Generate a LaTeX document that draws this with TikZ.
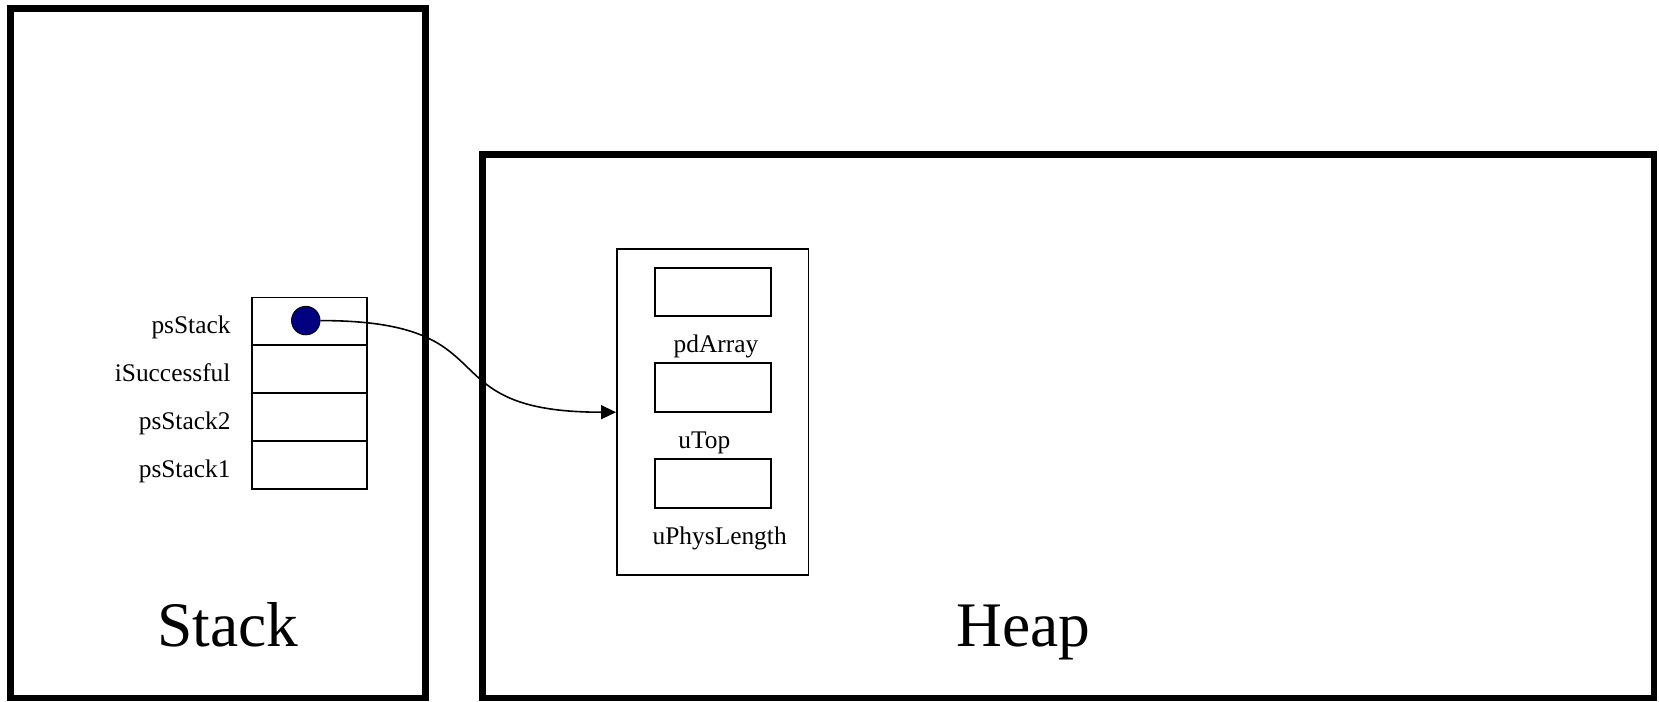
\documentclass[tikz,border=0pt]{standalone}
\usepackage{fontspec}
\setmainfont{Liberation Serif}
\usetikzlibrary{arrows.meta, positioning}
\definecolor{dotblue}{RGB}{0,0,128}

\begin{document}
\begin{tikzpicture}[x=0.5pt, y=-0.5pt,
  region/.style={draw, line width=3pt, inner sep=0pt},
  cell/.style={draw, line width=0.75pt, minimum width=54.5pt, minimum height=22.6pt, inner sep=0pt},
  field/.style={draw, line width=1pt, minimum width=54.6pt, minimum height=23pt, inner sep=0pt},
  lbl/.style={font=\fontsize{12}{14}\selectfont, inner sep=0pt},
  title/.style={font=\fontsize{30}{36}\selectfont, inner sep=0pt}]
  \useasboundingbox (0, 0) rectangle (1568, 663);
  % the two memory regions
  \node[region, minimum width=196pt, minimum height=326pt] (stack) at (206, 334) {};
  \node[region, minimum width=553.5pt, minimum height=257pt] (heap) at (1009.5, 403) {};
  \node[title, anchor=base] (stacktitle) at (215.5, 611) {Stack};
  \node[title, anchor=base] (heaptitle) at (967.5, 611) {Heap};
  % local variables on the stack
  \foreach \name [count=\i] in {psStack, iSuccessful, psStack2, psStack1} {
    \node[cell] (cell\i) at (292.5, {258.35 + 45.25*\i}) {};
    \node[lbl, anchor=base east] (var\i) at ([xshift=-9.5pt, yshift=-6pt]cell\i.west) {\name};
  }
  \node[circle, draw, fill=dotblue, line width=0.4pt, minimum size=13.5pt, inner sep=0pt] (dot) at (289, 303) {};
  % the struct on the heap
  \node[draw, line width=0.75pt, minimum width=90.5pt, minimum height=154pt, inner sep=0pt] (stackobj) at (673.5, 389.6) {};
  \foreach \name/\dx [count=\i] in {pdArray/1.5, uTop/-4, uPhysLength/3.25} {
    \node[field] (field\i) at (673.7, {185.5 + 90.5*\i}) {};
    \node[lbl, anchor=base] (member\i) at ([xshift=\dx pt, yshift=-16.6pt]field\i.south) {\name};
  }
  \draw[line width=0.75pt, -{Triangle[length=7pt, width=6.5pt]}] (dot.east) to[out=0, in=180, looseness=1.6] (stackobj.west);
\end{tikzpicture}
\end{document}
